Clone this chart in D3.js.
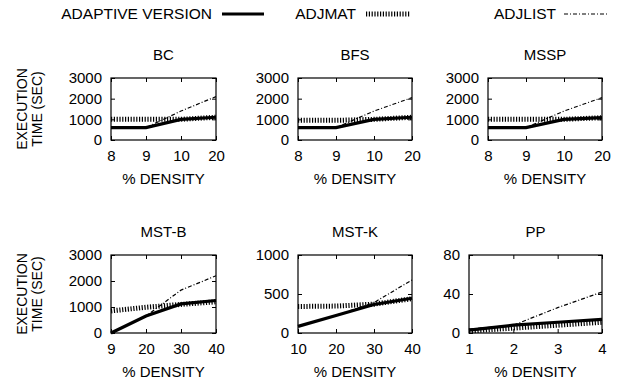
<!DOCTYPE html>
<html>
<head>
<meta charset="utf-8">
<script src="https://cdn.jsdelivr.net/npm/d3@7"></script>
<style>
    body { margin: 0; background: #fff; }
    text { font-family: "Liberation Sans", Arial, Helvetica, sans-serif; fill: #000; }
</style>
</head>
<body>
<div id="chart"></div>
<script>
// panel names and x categories (% density)
const panelTitles = ['BC', 'BFS', 'MSSP', 'MST-B', 'MST-K', 'PP'];
const densityLabels = [
    ['8', '9', '10', '20'],
    ['8', '9', '10', '20'],
    ['8', '9', '10', '20'],
    ['9', '20', '30', '40'],
    ['10', '20', '30', '40'],
    ['1', '2', '3', '4']
];
const yTickValues = [
    [0, 1000, 2000, 3000],
    [0, 1000, 2000, 3000],
    [0, 1000, 2000, 3000],
    [0, 1000, 2000, 3000],
    [0, 500, 1000],
    [0, 40, 80]
];

// execution time (sec)
const adaptiveVersion = [
    [600, 600, 1000, 1100],
    [600, 600, 1000, 1100],
    [600, 600, 1000, 1080],
    [0, 650, 1120, 1250],
    [85, 225, 365, 445],
    [3, 8, 11, 14]
];
const adjMat = [
    [1000, 1000, 1000, 1100],
    [950, 950, 1000, 1100],
    [1000, 1000, 1000, 1080],
    [850, 990, 1100, 1200],
    [340, 345, 370, 440],
    [2, 5, 8, 11]
];
const adjList = [
    [600, 600, 1400, 2100],
    [600, 600, 1400, 2050],
    [600, 600, 1400, 2050],
    [0, 650, 1650, 2200],
    [85, 225, 390, 680],
    [4, 8, 26, 42]
];

const seriesNames = ['ADAPTIVE VERSION', 'ADJMAT', 'ADJLIST'];

// panel boxes (pixels)
const boxes = [
    {left: 111, right: 216, top: 78, bottom: 140},
    {left: 298, right: 412, top: 78, bottom: 140},
    {left: 488, right: 602, top: 78, bottom: 140},
    {left: 111, right: 216, top: 255, bottom: 333},
    {left: 298, right: 412, top: 255, bottom: 333},
    {left: 469, right: 602, top: 255, bottom: 333}
];

const styles = [
    {width: 3.2, dash: null},
    {width: 5, dash: '1.2 1.6'},
    {width: 1.2, dash: '4 2 1 2'}
];

const width = 618, height = 381;
const svg = d3.select('#chart').append('svg')
    .attr('width', width)
    .attr('height', height);

// legend
const legendItems = [
    {textEnd: 212, x1: 222, x2: 264},
    {textEnd: 356, x1: 366, x2: 410},
    {textEnd: 556, x1: 564, x2: 608}
];
legendItems.forEach((it, i) => {
    svg.append('text')
        .attr('x', it.textEnd).attr('y', 14)
        .attr('dy', '0.35em')
        .attr('text-anchor', 'end')
        .style('font-size', '15.5px')
        .text(seriesNames[i]);
    svg.append('line')
        .attr('x1', it.x1).attr('x2', it.x2)
        .attr('y1', 14).attr('y2', 14)
        .attr('stroke', '#000')
        .attr('stroke-width', styles[i].width)
        .attr('stroke-dasharray', styles[i].dash);
});

panelTitles.forEach((title, p) => {
    const b = boxes[p];
    const yMax = d3.max(yTickValues[p]);

    const x = d3.scalePoint()
        .domain(densityLabels[p])
        .range([b.left, b.right])
        .padding(0);
    const y = d3.scaleLinear()
        .domain([0, yMax])
        .range([b.bottom, b.top]);

    const g = svg.append('g');

    // axes with inward ticks
    g.append('g')
        .attr('transform', `translate(0, ${b.bottom})`)
        .call(d3.axisBottom(x).tickSizeInner(-4).tickSizeOuter(0).tickPadding(10))
        .call(a => a.select('.domain').remove())
        .call(a => a.selectAll('text').style('font-size', '15px'));
    g.append('g')
        .attr('transform', `translate(0, ${b.top})`)
        .call(d3.axisTop(x).tickSizeInner(-4).tickSizeOuter(0).tickFormat(''))
        .call(a => a.select('.domain').remove());
    g.append('g')
        .attr('transform', `translate(${b.left}, 0)`)
        .call(d3.axisLeft(y).tickValues(yTickValues[p]).tickFormat(d3.format('d'))
            .tickSizeInner(-4).tickSizeOuter(0).tickPadding(9))
        .call(a => a.select('.domain').remove())
        .call(a => a.selectAll('text').style('font-size', '15px'));
    g.append('g')
        .attr('transform', `translate(${b.right}, 0)`)
        .call(d3.axisRight(y).tickValues(yTickValues[p]).tickSizeInner(-4).tickSizeOuter(0).tickFormat(''))
        .call(a => a.select('.domain').remove());

    // series lines
    const line = d3.line()
        .x((d, i) => x(densityLabels[p][i]))
        .y(d => y(d));
    [adaptiveVersion, adjMat, adjList].forEach((s, k) => {
        g.append('path')
            .datum(s[p])
            .attr('d', line)
            .attr('fill', 'none')
            .attr('stroke', '#000')
            .attr('stroke-width', styles[k].width)
            .attr('stroke-dasharray', styles[k].dash);
    });

    // border
    g.append('rect')
        .attr('x', b.left).attr('y', b.top)
        .attr('width', b.right - b.left).attr('height', b.bottom - b.top)
        .attr('fill', 'none').attr('stroke', '#000').attr('stroke-width', 1.2);

    // title
    g.append('text')
        .attr('x', (b.left + b.right) / 2).attr('y', b.top - 23)
        .attr('dy', '0.35em').attr('text-anchor', 'middle')
        .style('font-size', '15px')
        .text(title);

    // x label
    g.append('text')
        .attr('x', (b.left + b.right) / 2).attr('y', b.bottom + 39)
        .attr('dy', '0.35em').attr('text-anchor', 'middle')
        .style('font-size', '15px')
        .text('% DENSITY');

    // y label on the first column
    if (p % 3 === 0) {
        const yl = g.append('text')
            .attr('transform', `translate(27, ${(b.top + b.bottom) / 2}) rotate(-90)`)
            .attr('text-anchor', 'middle')
            .style('font-size', '14px');
        yl.append('tspan').attr('x', 0).attr('y', 0).text('EXECUTION');
        yl.append('tspan').attr('x', 0).attr('y', 15).text('TIME (SEC)');
    }
});
</script>
</body>
</html>
